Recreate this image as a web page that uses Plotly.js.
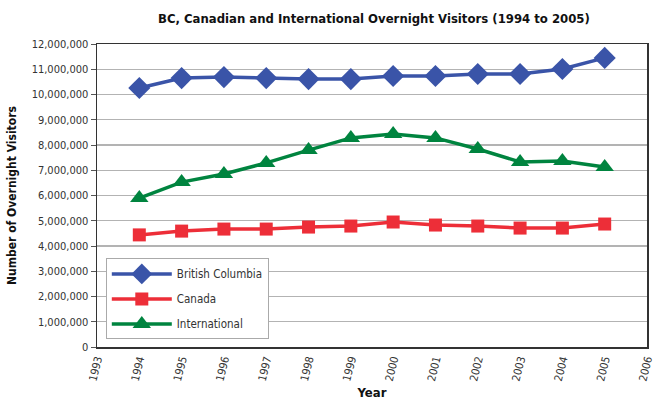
<!DOCTYPE html>
<html>
<head>
<meta charset="utf-8">
<script src="https://cdn.plot.ly/plotly-3.0.1.min.js"></script>
<style>
  body { margin: 0; background: #ffffff; }
  #graph { width: 656px; height: 400px; }
</style>
</head>
<body>
<div id="graph"></div>
<script>
// Overnight visitors to BC, 1994-2005
var years = [1994, 1995, 1996, 1997, 1998, 1999, 2000, 2001, 2002, 2003, 2004, 2005];
var bcVisitors = [10260000, 10650000, 10690000, 10650000, 10610000, 10610000, 10730000, 10730000, 10810000, 10810000, 11010000, 11450000];
var canadaVisitors = [4440000, 4590000, 4670000, 4670000, 4750000, 4790000, 4950000, 4830000, 4790000, 4710000, 4710000, 4870000];
var intlVisitors = [5900000, 6530000, 6850000, 7290000, 7800000, 8280000, 8440000, 8280000, 7840000, 7330000, 7370000, 7130000];
var seriesNames = ["British Columbia", "Canada", "International"];

var fontFamily = "'DejaVu Sans Condensed', 'Liberation Sans Narrow', 'Roboto', sans-serif";

function makeSeries(y, name, color, symbol, size) {
  return {
    x: years,
    y: y,
    name: name,
    legendgroup: name,
    mode: "lines+markers",
    type: "scatter",
    line: { color: color, width: 3.5 },
    marker: { color: color, symbol: symbol, size: size }
  };
}

var data = [
  makeSeries(bcVisitors, seriesNames[0], "#3a54a8", "diamond", 17),
  makeSeries(canadaVisitors, seriesNames[1], "#ed2e38", "square", 13),
  makeSeries(intlVisitors, seriesNames[2], "#00843f", "triangle-up", 16)
];

var layout = {
  width: 656,
  height: 400,
  margin: { l: 97, r: 9, t: 44, b: 53 },
  paper_bgcolor: "#ffffff",
  plot_bgcolor: "#ffffff",
  font: { family: fontFamily, size: 11, color: "#222222" },
  title: {
    text: "<b>BC, Canadian and International Overnight Visitors (1994 to 2005)</b>",
    x: 0.57, xanchor: "center", y: 0.955, yanchor: "middle",
    font: { family: fontFamily, size: 13, color: "#111111" }
  },
  xaxis: {
    range: [1993, 2006],
    dtick: 1,
    tick0: 1993,
    tickangle: -76,
    ticklabeloverflow: "allow",
    tickfont: { size: 11, color: "#333333" },
    showgrid: false,
    zeroline: false,
    showline: true,
    linecolor: "#333333",
    linewidth: 1.5,
    mirror: true,
    ticks: "",
    title: { text: "<b>Year</b>", font: { size: 13, color: "#111111" }, standoff: 6 }
  },
  yaxis: {
    range: [0, 12000000],
    dtick: 1000000,
    tickformat: ",d",
    tickfont: { size: 11, color: "#333333" },
    showgrid: true,
    gridcolor: "#b3b3b3",
    gridwidth: 1.3,
    zeroline: false,
    showline: true,
    linecolor: "#333333",
    linewidth: 1.5,
    mirror: true,
    ticks: "outside",
    ticklen: 5,
    tickcolor: "#555555",
    title: { text: "<b>Number of Overnight Visitors</b>", font: { size: 12, color: "#111111" }, standoff: 12 }
  },
  legend: {
    x: 0.016, xanchor: "left",
    y: 0.025, yanchor: "bottom",
    bgcolor: "#ffffff",
    bordercolor: "#aaaaaa",
    borderwidth: 1,
    font: { size: 11.5, color: "#333333" },
    itemwidth: 60,
    tracegroupgap: 6
  },
  showlegend: true
};

Plotly.newPlot(document.getElementById("graph"), data, layout, { displayModeBar: false, staticPlot: true });
</script>
</body>
</html>
